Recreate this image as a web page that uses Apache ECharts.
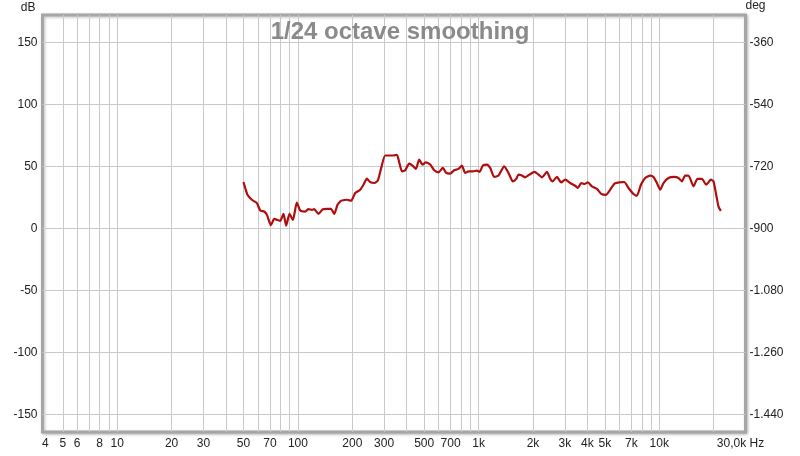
<!DOCTYPE html>
<html>
<head>
<meta charset="utf-8">
<script src="https://cdn.jsdelivr.net/npm/echarts@6/dist/echarts.min.js"></script>
<style>
html,body{margin:0;padding:0;background:#fff;}
#chart{width:800px;height:456px;}
</style>
</head>
<body>
<div id="chart"></div>
<script>
// ---- data ----
const titleText = '1/24 octave smoothing';
const freqHz = [50, 51.1, 52.6, 55.6, 59.3, 61.9, 65.1, 67.4, 70.9, 73.9, 77.1, 79.8, 83.2, 86.1, 89.9, 93.8, 98.7,
  103, 109.7, 114.5, 119.6, 123.1, 130, 137.5, 144.7, 152.3, 158.8, 165.7, 171.5, 175.2, 186.7, 197.2, 207.6, 221.2,
  230.7, 240.9, 251.2, 265.3, 277.1, 289.1, 304.2, 324.3, 338.2, 353.2, 363.7, 376.5, 392.6, 413.1, 430.8, 449.8,
  469.2, 489.3, 510.9, 539.7, 568, 599.9, 634.5, 661.8, 696.4, 732.8, 774.1, 808.3, 843.1, 879.3, 929.9, 978.6,
  1012, 1056, 1111, 1159, 1220, 1289, 1386, 1464, 1548, 1615, 1663, 1736, 1811, 1913, 2039, 2146, 2241, 2388,
  2491, 2565, 2713, 2866, 3016, 3213, 3425, 3545, 3697, 3855, 4026, 4236, 4516, 4771, 5064, 5350, 5651, 6000,
  6395, 6755, 7197, 7516, 7913, 8356, 8904, 9288, 9699, 10116, 10549, 11242, 12090, 12771, 13339, 13909, 14508,
  15464, 16271, 17210, 18180, 19300, 19950, 20650, 21270, 21930];
const splDb = [37.3, 32.5, 27, 23, 20.3, 14.3, 13.5, 10.8, 2.5, 7.5, 6.7, 5.9, 11.6, 2.2, 11.6, 6.7, 20.8,
  14.3, 13.5, 15.4, 14.9, 15.4, 11.6, 15.4, 15.7, 15.7, 11.6, 18.9, 21.6, 22.4, 23, 22.2, 28.4, 31.1,
  35.1, 40, 37.3, 36.5, 38.6, 48.7, 58.7, 58.7, 58.7, 59.3, 53.2, 45.9, 46.8, 52.2, 50.6, 47.9,
  55.4, 51.4, 53.2, 51.4, 46.8, 45.1, 48.7, 44.6, 44.1, 46.8, 47.9, 50.6, 44.6, 45.9, 45.9, 46.5,
  45.5, 50.6, 51.4, 48.7, 41.4, 42.5, 50, 44.6, 37.8, 39.8, 43.3, 42.5, 41.1, 43.3, 45.5, 43.3, 41.1, 45.5,
  39.8, 37.8, 41.4, 37, 39.2, 36.5, 34.3, 32.5, 36.5, 35.7, 37, 33.8, 31.7, 27.8, 27, 31.1, 36, 37,
  37.3, 32.5, 27.6, 26.2, 35.1, 40.6, 42.5, 41.4, 36.5, 31.1, 36.5, 40.6, 41.4, 40.6, 37.8, 42.5, 42.5,
  33.8, 39.8, 39.8, 35.1, 39.2, 37.8, 27, 17.5, 14];

const xGridValues = [5, 6, 7, 8, 9, 10, 20, 30, 40, 50, 60, 70, 80, 90, 100, 200, 300, 400, 500, 600, 700, 800, 900,
  1000, 2000, 3000, 4000, 5000, 6000, 7000, 8000, 9000, 10000, 20000];
const xLabelValues = [4, 5, 6, 8, 10, 20, 30, 50, 70, 100, 200, 300, 500, 700, 1000, 2000, 3000, 4000, 5000, 7000, 10000, 30000];
const xLabelTexts = ['4', '5', '6', '8', '10', '20', '30', '50', '70', '100', '200', '300', '500', '700', '1k', '2k', '3k', '4k', '5k', '7k', '10k', '30,0k Hz'];
const dbTicks = [-150, -100, -50, 0, 50, 100, 150];
const degTicks = [-360, -540, -720, -900, -1080, -1260, -1440];

// ---- chart ----
const chart = echarts.init(document.getElementById('chart'), null, {renderer: 'canvas'});
const FONT = '"Liberation Sans", Arial, sans-serif';
const dbMin = -164.3, dbMax = 172;
const degOf = d => -900 + 3.6 * d;

function fmtDeg(v) {
  const s = Math.abs(Math.round(v)).toString();
  const withSep = s.replace(/\B(?=(\d{3})+(?!\d))/g, '.');
  return (v < 0 ? '-' : '') + withSep;
}
function fmtX(v) {
  let best = 0, bd = Infinity;
  xLabelValues.forEach((t, i) => { const d = Math.abs(Math.log10(t) - Math.log10(v)); if (d < bd) { bd = d; best = i; } });
  const txt = xLabelTexts[best];
  return best === xLabelTexts.length - 1 ? '{last|' + txt + '}' : txt;
}

const option = {
  animation: false,
  backgroundColor: '#ffffff',
  title: {
    text: titleText,
    left: 'center',
    top: 15,
    textStyle: {fontFamily: FONT, fontSize: 24, fontWeight: 'bold', color: '#8a8a8a'}
  },
  grid: {
    left: 42.5, right: 54.5, top: 15, bottom: 24,
    show: true,
    backgroundColor: '#ffffff',
    borderColor: '#a6a6a6',
    borderWidth: 3,
    shadowColor: 'rgba(0,0,0,0.25)',
    shadowBlur: 3,
    shadowOffsetX: 1,
    shadowOffsetY: 1
  },
  xAxis: {
    type: 'log',
    logBase: 10,
    min: 3.86,
    max: 30000,
    axisLine: {show: false},
    axisTick: {show: false, customValues: xGridValues},
    splitLine: {show: true, lineStyle: {color: '#c9c9c9', width: 1}},
    minorTick: {show: false},
    axisLabel: {
      customValues: xLabelValues,
      formatter: fmtX,
      fontFamily: FONT, fontSize: 12, color: '#222',
      margin: 6,
      rich: {last: {fontFamily: FONT, fontSize: 12, color: '#222', padding: [0, 10, 0, 0]}}
    }
  },
  yAxis: [{
    type: 'value',
    min: dbMin, max: dbMax,
    position: 'left',
    name: 'dB',
    nameLocation: 'end',
    nameGap: 1,
    nameTextStyle: {fontFamily: FONT, fontSize: 12, color: '#222', align: 'right', padding: [0, 7, 0, 0]},
    axisLine: {show: false},
    axisTick: {show: false, customValues: dbTicks},
    splitLine: {show: true, lineStyle: {color: '#c9c9c9', width: 1}},
    axisLabel: {customValues: dbTicks, fontFamily: FONT, fontSize: 12, color: '#222', margin: 5}
  }, {
    type: 'value',
    min: degOf(dbMin), max: degOf(dbMax),
    position: 'right',
    name: 'deg',
    nameLocation: 'end',
    nameGap: 3,
    nameTextStyle: {fontFamily: FONT, fontSize: 12, color: '#222', align: 'left', padding: [0, 0, 0, 0]},
    axisLine: {show: false},
    axisTick: {show: false, customValues: degTicks},
    splitLine: {show: false},
    axisLabel: {customValues: degTicks, formatter: fmtDeg, fontFamily: FONT, fontSize: 12, color: '#222', margin: 4}
  }],
  series: [{
    type: 'line',
    yAxisIndex: 0,
    data: freqHz.map((f, i) => [f, splDb[i]]),
    showSymbol: false,
    smooth: 0.2,
    lineStyle: {color: '#b00e0e', width: 2.2},
    z: 5
  }]
};
chart.setOption(option);
</script>
</body>
</html>
